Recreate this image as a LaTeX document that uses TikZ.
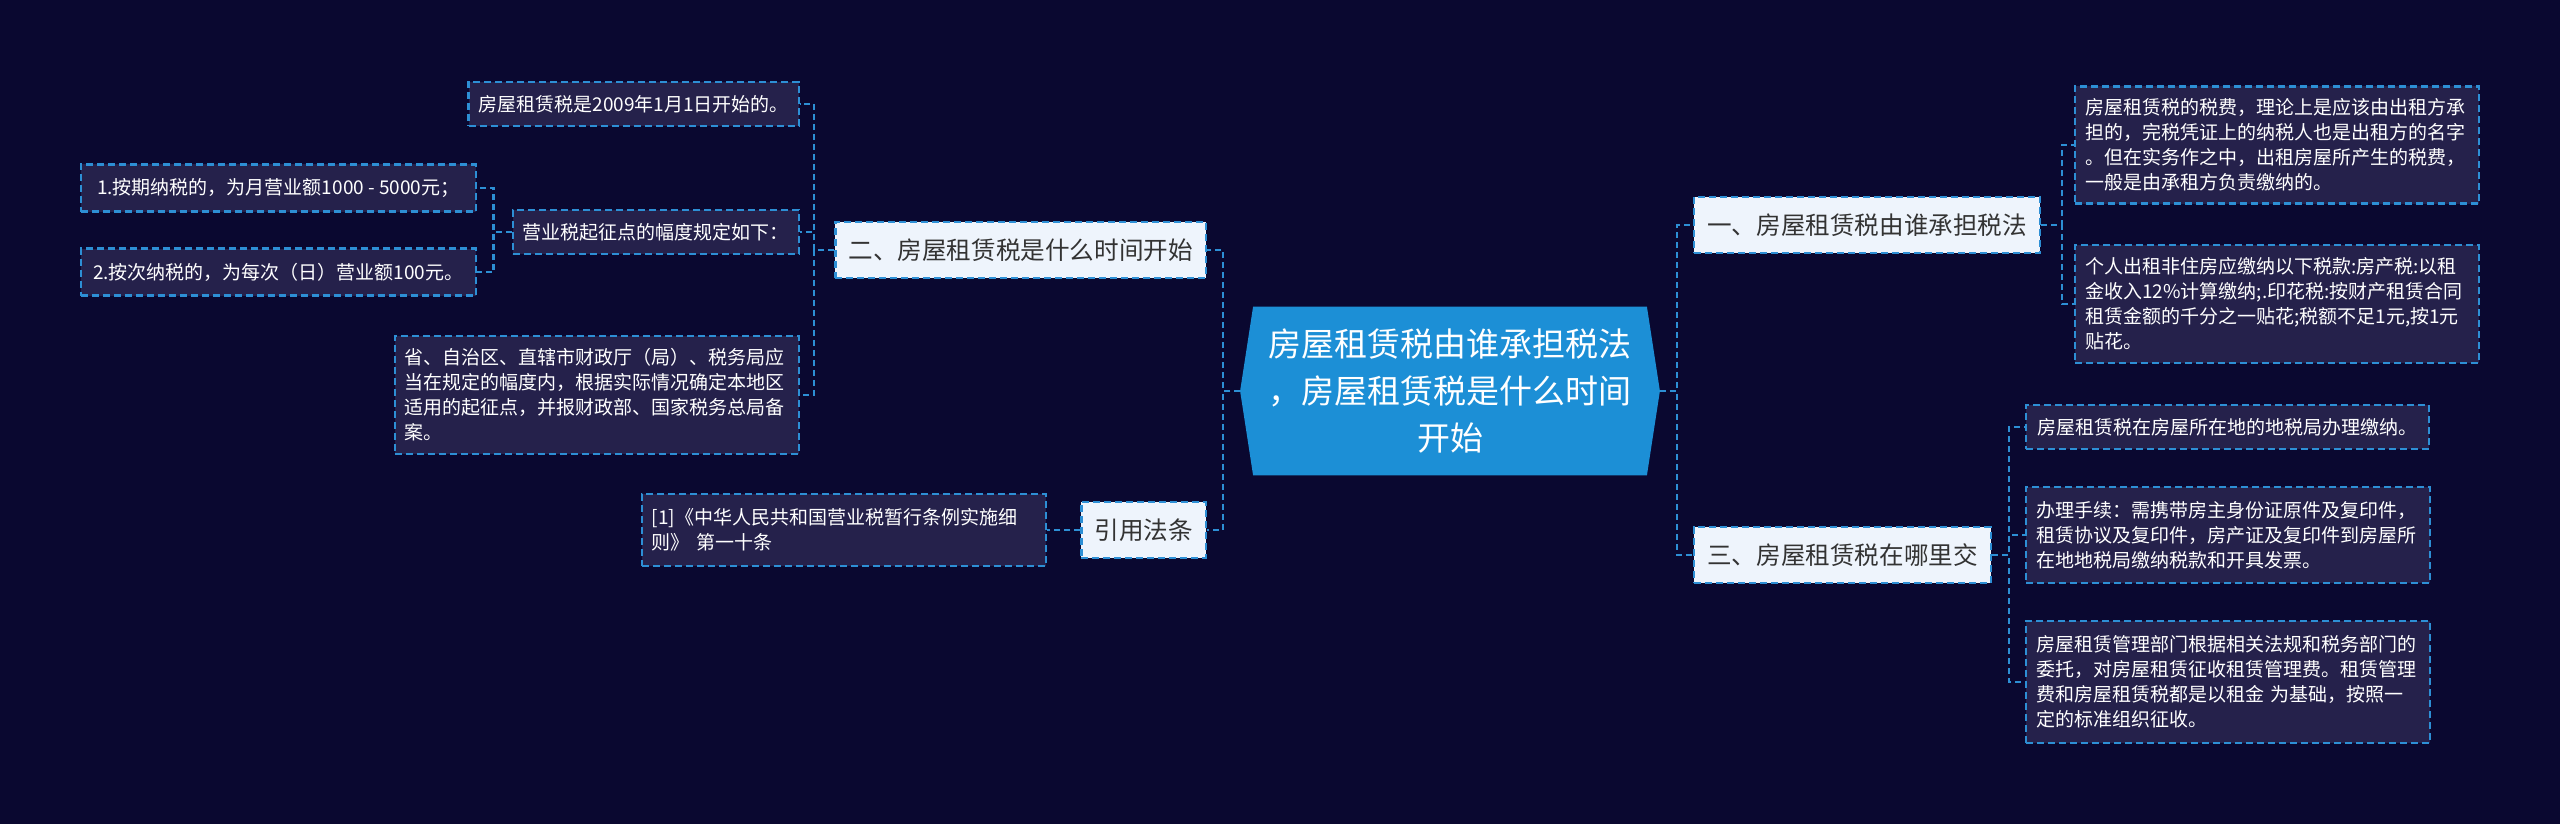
\documentclass[tikz,border=0pt]{standalone}
\usepackage{fontspec}
\setmainfont{Noto Sans CJK SC}
\usetikzlibrary{backgrounds}
\definecolor{navybg}{HTML}{0A0830}
\definecolor{linkblue}{HTML}{2D8FD5}
\definecolor{leaffill}{HTML}{25214B}
\definecolor{topicfill}{HTML}{EEF4FC}
\definecolor{rootblue}{HTML}{1C8FD6}
\definecolor{inktext}{HTML}{333333}

\begin{document}
\begin{tikzpicture}[x=0.5pt,y=-0.5pt,
  link/.style={linkblue,line width=1.2pt,dash pattern=on 3pt off 2pt},
  leaf/.style={draw=linkblue,line width=1.2pt,dash pattern=on 3.5pt off 2pt,fill=leaffill,text=white,
    font=\fontsize{9.5}{12.5}\selectfont,align=left,inner xsep=5pt,inner ysep=4pt,minimum height=22pt},
  wideleaf/.style={leaf,text width=192pt},
  topic/.style={draw=linkblue,line width=1.2pt,dash pattern=on 3.5pt off 2pt,fill=topicfill,text=inktext,
    font=\fontsize{12.3}{15}\selectfont,inner xsep=6.5pt,minimum height=28pt},
  rootnode/.style={text=white,font=\fontsize{16.5}{23.5}\selectfont,align=center,
    minimum width=209.5pt,minimum height=84pt}]
\useasboundingbox (0,0) rectangle (2560,824);

\node[rootnode] (root) at (1450,391) {房屋租赁税由谁承担税法\\，房屋租赁税是什么时间\\开始};

\node[topic,anchor=east] (l1a) at (1207,250) {二、房屋租赁税是什么时间开始};
\node[topic,anchor=east] (l1b) at (1207,530) {引用法条};
\node[topic,anchor=west] (r1a) at (1693,225) {一、房屋租赁税由谁承担税法};
\node[topic,anchor=west] (r1b) at (1693,555) {三、房屋租赁税在哪里交};

\node[leaf,anchor=east] (a1) at (800,104) {房屋租赁税是2009年1月1日开始的。};
\node[leaf,anchor=east] (a2) at (800,232) {营业税起征点的幅度规定如下：};
\node[leaf,anchor=east,minimum width=197.5pt,minimum height=23.5pt] (a2a) at (477,188) {1.按期纳税的，为月营业额1000 - 5000元；};
\node[leaf,anchor=east,minimum width=197.5pt,minimum height=23.5pt] (a2b) at (477,272) {2.按次纳税的，为每次（日）营业额100元。};
\node[wideleaf,anchor=east,minimum height=59pt] (a3) at (800,395) {省、自治区、直辖市财政厅（局）、税务局应\\当在规定的幅度内，根据实际情况确定本地区\\适用的起征点，并报财政部、国家税务总局备\\案。};
\node[wideleaf,anchor=east,minimum height=36pt] (b1) at (1047,530) {[1]《中华人民共和国营业税暂行条例实施细\\则》 第一十条};

\node[wideleaf,anchor=west,minimum height=58.5pt] (r1) at (2074,145) {房屋租赁税的税费，理论上是应该由出租方承\\担的，完税凭证上的纳税人也是出租方的名字\\。但在实务作之中，出租房屋所产生的税费，\\一般是由承租方负责缴纳的。};
\node[wideleaf,anchor=west,minimum height=59pt] (r2) at (2074,304) {个人出租非住房应缴纳以下税款:房产税:以租\\金收入12\%计算缴纳;.印花税:按财产租赁合同\\租赁金额的千分之一贴花;税额不足1元,按1元\\贴花。};
\node[leaf,anchor=west,minimum width=201.5pt] (r3) at (2025,427) {房屋租赁税在房屋所在地的地税局办理缴纳。};
\node[wideleaf,anchor=west,minimum height=48pt] (r4) at (2025,535) {办理手续：需携带房主身份证原件及复印件，\\租赁协议及复印件，房产证及复印件到房屋所\\在地地税局缴纳税款和开具发票。};
\node[wideleaf,anchor=west,minimum height=61pt] (r5) at (2025,682) {房屋租赁管理部门根据相关法规和税务部门的\\委托，对房屋租赁征收租赁管理费。租赁管理\\费和房屋租赁税都是以租金 为基础，按照一\\定的标准组织征收。};

\foreach \kid in {l1a,l1b} \draw[link] (root.west) -- ++(-17,0) |- (\kid.east);
\foreach \kid in {a1,a2,a3} \draw[link] (l1a.west) -- ++(-20,0) |- (\kid.east);
\foreach \kid in {a2a,a2b} \draw[link] (a2.west) -- ++(-18,0) |- (\kid.east);
\draw[link] (l1b.west) -- (b1.east);
\foreach \kid in {r1a,r1b} \draw[link] (root.east) -- ++(17,0) |- (\kid.west);
\foreach \kid in {r1,r2} \draw[link] (r1a.east) -- ++(21,0) |- (\kid.west);
\foreach \kid in {r3,r4,r5} \draw[link] (r1b.east) -- ++(17,0) |- (\kid.west);

\begin{scope}[on background layer]
\fill[navybg] (0,0) rectangle (2560,824);
\fill[rootblue] (root.west) -- ([xshift=6.5pt]root.north west) -- ([xshift=-6.5pt]root.north east)
  -- (root.east) -- ([xshift=-6.5pt]root.south east) -- ([xshift=6.5pt]root.south west) -- cycle;
\end{scope}
\end{tikzpicture}
\end{document}
